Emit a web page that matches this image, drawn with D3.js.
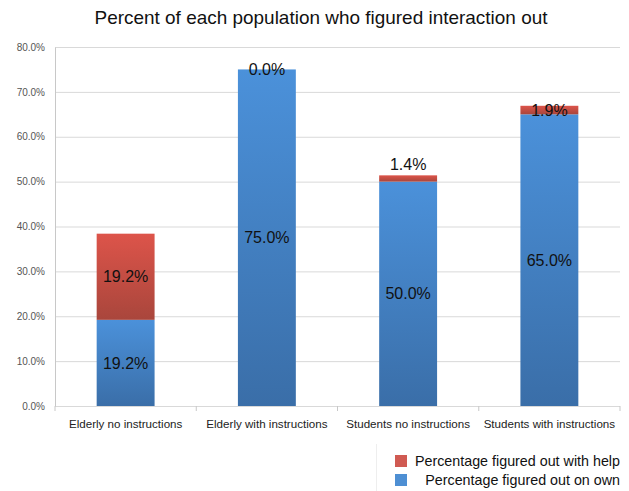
<!DOCTYPE html>
<html lang="en">
<head>
    <meta charset="utf-8">
    <title>Percent of each population who figured interaction out</title>
    <script src="https://cdn.jsdelivr.net/npm/d3@7"></script>
    <style>
        body { margin: 0; background: #fff; }
        text { font-family: "Liberation Sans", Arial, sans-serif; }
    </style>
</head>
<body>
    <div id="chart"></div>
    <script>
        // data
        const categories = ["Elderly no instructions", "Elderly with instructions",
                            "Students no instructions", "Students with instructions"];
        const ownValues = [19.2, 75.0, 50.0, 65.0];
        const helpValues = [19.2, 0.0, 1.4, 1.9];
        const yTicks = [0, 10, 20, 30, 40, 50, 60, 70, 80];
        const seriesNames = ["Percentage figured out with help", "Percentage figured out on own"];

        const width = 629, height = 491;
        const margin = { top: 47, right: 9, bottom: 85, left: 55 };

        const svg = d3.select("#chart").append("svg")
            .attr("width", width)
            .attr("height", height);

        // gradients for the bars
        const defs = svg.append("defs");
        function grad(id, top, bottom) {
            const g = defs.append("linearGradient").attr("id", id)
                .attr("x1", 0).attr("y1", 0).attr("x2", 0).attr("y2", 1);
            g.append("stop").attr("offset", "0%").attr("stop-color", top);
            g.append("stop").attr("offset", "100%").attr("stop-color", bottom);
        }
        grad("gBlue", "#4b91da", "#3a6ea8");
        grad("gRed", "#dd544a", "#a9463c");

        const x = d3.scaleBand()
            .domain(categories)
            .range([margin.left, width - margin.right])
            .paddingInner(0.59)
            .paddingOuter(0.295);

        const y = d3.scaleLinear()
            .domain([0, 80])
            .range([height - margin.bottom, margin.top]);

        // title
        svg.append("text")
            .attr("x", 321)
            .attr("y", 24)
            .attr("text-anchor", "middle")
            .attr("font-size", 19)
            .attr("fill", "#111")
            .attr("textLength", 453)
            .attr("lengthAdjust", "spacingAndGlyphs")
            .text("Percent of each population who figured interaction out");

        // gridlines
        svg.append("g")
            .selectAll("line")
            .data(yTicks)
            .enter().append("line")
            .attr("x1", margin.left)
            .attr("x2", width - margin.right)
            .attr("y1", d => y(d) + 0.5)
            .attr("y2", d => y(d) + 0.5)
            .attr("stroke", "#d9d9d9");

        // y axis
        const yAxis = svg.append("g")
            .attr("transform", `translate(${margin.left},0)`)
            .call(d3.axisLeft(y).tickValues(yTicks).tickSize(0).tickPadding(10)
                .tickFormat(d => d.toFixed(1) + "%"));
        yAxis.select(".domain").attr("stroke", "#c8c8c8");
        yAxis.selectAll("text").attr("font-size", 10).attr("fill", "#555")
            .attr("font-family", "Liberation Sans, Arial, sans-serif");

        // x axis
        const xAxis = svg.append("g")
            .attr("transform", `translate(0,${y(0)})`)
            .call(d3.axisBottom(x).tickSize(0).tickPadding(14));
        xAxis.select(".domain").remove();
        xAxis.selectAll("text").attr("font-size", 11.6).attr("fill", "#222")
            .attr("font-family", "Liberation Sans, Arial, sans-serif");
        // small separators under the axis between categories
        const step = x.step();
        svg.append("g").selectAll("line")
            .data(d3.range(categories.length + 1))
            .enter().append("line")
            .attr("x1", i => margin.left + i * step)
            .attr("x2", i => margin.left + i * step)
            .attr("y1", y(0))
            .attr("y2", y(0) + 5)
            .attr("stroke", "#c8c8c8");

        // bars
        const bars = svg.append("g");
        bars.selectAll(".own")
            .data(categories)
            .enter().append("rect")
            .attr("class", "own")
            .attr("x", d => x(d))
            .attr("width", x.bandwidth())
            .attr("y", (d, i) => y(ownValues[i]))
            .attr("height", (d, i) => y(0) - y(ownValues[i]))
            .attr("fill", "url(#gBlue)");

        bars.selectAll(".help")
            .data(categories)
            .enter().append("rect")
            .attr("class", "help")
            .attr("x", d => x(d))
            .attr("width", x.bandwidth())
            .attr("y", (d, i) => y(ownValues[i] + helpValues[i]))
            .attr("height", (d, i) => y(ownValues[i]) - y(ownValues[i] + helpValues[i]))
            .attr("fill", "url(#gRed)");

        // value labels
        const labelNudge = [0, 0, -14, 0];
        const labels = svg.append("g")
            .attr("font-size", 16)
            .attr("fill", "#111")
            .attr("text-anchor", "middle");
        labels.selectAll(".lOwn")
            .data(categories)
            .enter().append("text")
            .attr("x", d => x(d) + x.bandwidth() / 2)
            .attr("y", (d, i) => y(ownValues[i] / 2))
            .attr("dy", "0.35em")
            .text((d, i) => ownValues[i].toFixed(1) + "%");
        labels.selectAll(".lHelp")
            .data(categories)
            .enter().append("text")
            .attr("x", d => x(d) + x.bandwidth() / 2)
            .attr("y", (d, i) => y(ownValues[i] + helpValues[i] / 2) + labelNudge[i])
            .attr("dy", "0.35em")
            .text((d, i) => helpValues[i].toFixed(1) + "%");

        // legend
        const legend = svg.append("g");
        legend.append("line")
            .attr("x1", 376.5).attr("x2", 376.5)
            .attr("y1", 444).attr("y2", 491)
            .attr("stroke", "#eeeeee");
        const legendFill = ["#d05a52", "#4e8fd3"];
        seriesNames.forEach((name, i) => {
            const ly = 461 + i * 19;
            legend.append("rect")
                .attr("x", 395).attr("y", ly - 6)
                .attr("width", 12).attr("height", 12)
                .attr("fill", legendFill[i]);
            legend.append("text")
                .attr("x", 620).attr("y", ly)
                .attr("dy", "0.35em")
                .attr("text-anchor", "end")
                .attr("font-size", 14.3)
                .attr("fill", "#111")
                .text(name);
        });
    </script>
</body>
</html>
